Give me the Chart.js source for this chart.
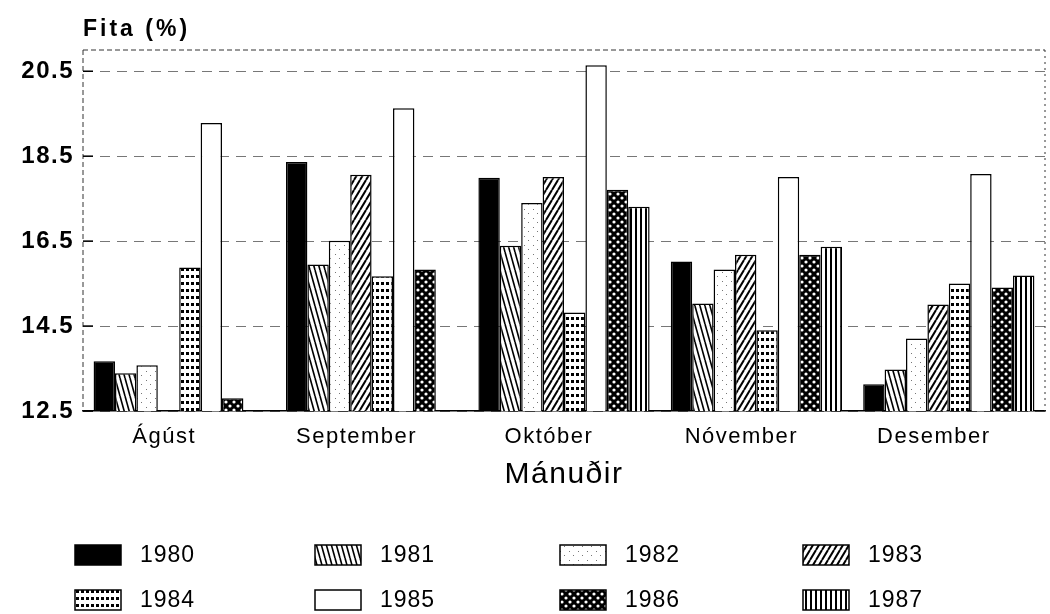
<!DOCTYPE html>
<html>
<head>
<meta charset="utf-8">
<script src="https://cdn.jsdelivr.net/npm/chart.js@4.4.0/dist/chart.umd.min.js"></script>
<style>
  body { margin: 0; background: #fff; }
  canvas { display: block; }
</style>
</head>
<body>
<canvas id="fita-chart" width="1050" height="614"></canvas>
<script>
// months on the x axis, one series per year
const months = ['Ágúst', 'September', 'Október', 'Nóvember', 'Desember'];
const years = ['1980', '1981', '1982', '1983', '1984', '1985', '1986', '1987'];

const fita1980 = [13.67, 18.36, 17.99, 16.02, 13.13];
const fita1981 = [13.39, 15.95, 16.39, 15.03, 13.48];
const fita1982 = [13.58, 16.51, 17.40, 15.83, 14.21];
const fita1983 = [null, 18.06, 18.01, 16.18, 15.01];
const fita1984 = [15.88, 15.67, 14.82, 14.40, 15.50];
const fita1985 = [19.28, 19.63, 20.64, 18.01, 18.08];
const fita1986 = [12.80, 15.83, 17.71, 16.18, 15.41];
const fita1987 = [null, null, 17.31, 16.37, 15.69];

const yTicks = [12.5, 14.5, 16.5, 18.5, 20.5];

const FONT = "'Liberation Sans', Arial, sans-serif";

// small tiles to imitate the printed hatching
function makePattern(w, h, draw) {
  const c = document.createElement('canvas');
  c.width = w;
  c.height = h;
  const g = c.getContext('2d');
  g.fillStyle = '#fff';
  g.fillRect(0, 0, w, h);
  g.strokeStyle = '#000';
  g.fillStyle = '#000';
  draw(g, w, h);
  return g.createPattern(c, 'repeat');
}

function slantLines(g, w, h, lw, forward) {
  g.lineWidth = lw;
  for (let k = -1; k <= 1; k++) {
    g.beginPath();
    if (forward) {
      g.moveTo(k * w, h);
      g.lineTo(k * w + w, 0);
    } else {
      g.moveTo(k * w, 0);
      g.lineTo(k * w + w, h);
    }
    g.stroke();
  }
}

const fills = [
  '#000',
  makePattern(5, 18, (g, w, h) => slantLines(g, w, h, 1.6, false)),
  makePattern(9, 9, (g) => {
    g.fillStyle = '#777';
    g.fillRect(2, 2, 1, 1);
    g.fillRect(6, 6, 1, 1);
  }),
  makePattern(6, 10, (g, w, h) => slantLines(g, w, h, 2, true)),
  makePattern(5, 7, (g) => {
    g.fillRect(1, 2, 3, 3);
  }),
  '#fff',
  makePattern(8, 8, (g) => {
    g.fillRect(0, 0, 8, 8);
    g.fillStyle = '#fff';
    g.beginPath();
    g.arc(2, 2, 1.6, 0, Math.PI * 2);
    g.arc(6, 6, 1.6, 0, Math.PI * 2);
    g.fill();
  }),
  makePattern(5, 2, (g) => {
    g.fillRect(0, 0, 2, 2);
  }),
];

const seriesValues = [fita1980, fita1981, fita1982, fita1983, fita1984, fita1985, fita1986, fita1987];

const datasets = years.map((year, i) => ({
  label: year,
  data: seriesValues[i],
  backgroundColor: fills[i],
  borderColor: '#000',
  borderWidth: 1.5,
  barPercentage: 1,
  categoryPercentage: 0.89,
}));

// title, plot frame, inner tick marks and the 4-column legend
const decorations = {
  id: 'decorations',
  beforeDraw(chart) {
    chart.ctx.letterSpacing = '1.5px';
  },
  beforeDatasetsDraw(chart) {
    const { ctx, chartArea: a } = chart;
    const y = chart.scales.y;
    ctx.save();
    ctx.strokeStyle = '#333';
    ctx.lineWidth = 1;
    ctx.setLineDash([5, 3]);
    ctx.beginPath();
    ctx.moveTo(a.left, a.top);
    ctx.lineTo(a.right, a.top);
    ctx.moveTo(a.left, a.top);
    ctx.lineTo(a.left, a.bottom);
    ctx.stroke();
    ctx.setLineDash([2, 4]);
    ctx.beginPath();
    ctx.moveTo(a.right, a.top);
    ctx.lineTo(a.right, a.bottom);
    ctx.stroke();
    ctx.setLineDash([]);
    ctx.strokeStyle = '#000';
    ctx.lineWidth = 1.5;
    yTicks.forEach((v) => {
      const py = y.getPixelForValue(v);
      ctx.beginPath();
      ctx.moveTo(a.left, py);
      ctx.lineTo(a.left + 10, py);
      ctx.stroke();
    });
    ctx.restore();
  },
  afterDraw(chart) {
    const { ctx, chartArea: a } = chart;
    ctx.save();
    ctx.letterSpacing = '3px';
    ctx.fillStyle = '#000';
    ctx.font = 'bold 23px ' + FONT;
    ctx.textBaseline = 'alphabetic';
    ctx.textAlign = 'left';
    ctx.fillText('Fita (%)', a.left, 36);

    ctx.letterSpacing = '1px';
    ctx.font = '23px ' + FONT;
    ctx.textBaseline = 'middle';
    const colX = [75, 315, 560, 803];
    const rowY = [555, 600];
    chart.data.datasets.forEach((ds, i) => {
      const x = colX[i % 4];
      const yc = rowY[Math.floor(i / 4)];
      ctx.fillStyle = ds.backgroundColor;
      ctx.fillRect(x, yc - 10, 46, 20);
      ctx.strokeStyle = '#000';
      ctx.lineWidth = 1.5;
      ctx.strokeRect(x, yc - 10, 46, 20);
      ctx.fillStyle = '#000';
      ctx.fillText(ds.label, x + 65, yc + 1);
    });
    ctx.restore();
  },
};

new Chart(document.getElementById('fita-chart'), {
  type: 'bar',
  data: { labels: months, datasets: datasets },
  plugins: [decorations],
  options: {
    responsive: false,
    devicePixelRatio: 1,
    animation: false,
    layout: { padding: { top: 50, right: 5, bottom: 113, left: 0 } },
    plugins: {
      legend: { display: false },
      tooltip: { enabled: false },
    },
    scales: {
      x: {
        afterFit: (axis) => { axis.height = 90; },
        grid: { display: false, drawTicks: false },
        border: { display: true, color: '#000', width: 1.5 },
        ticks: {
          color: '#000',
          font: { family: FONT, size: 22 },
          padding: 13,
          labelOffset: -15,
          maxRotation: 0,
          autoSkip: false,
        },
        title: {
          display: true,
          text: 'Mánuðir',
          color: '#000',
          font: { family: FONT, size: 30 },
          padding: { top: 0, bottom: 8 },
        },
      },
      y: {
        min: 12.5,
        max: 21,
        afterBuildTicks: (axis) => { axis.ticks = yTicks.map((v) => ({ value: v })); },
        afterFit: (axis) => { axis.width = 83; },
        grid: { color: '#777', lineWidth: 1, drawTicks: false },
        border: { display: false, dash: [10, 7] },
        ticks: {
          color: '#000',
          font: { family: FONT, size: 24, weight: 'bold' },
          padding: 9,
          callback: (v) => v.toFixed(1),
        },
      },
    },
  },
});
</script>
</body>
</html>
